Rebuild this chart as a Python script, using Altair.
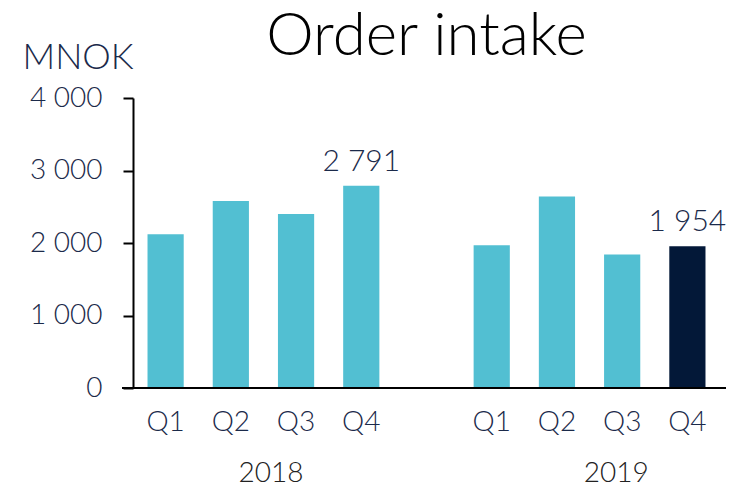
import altair as alt
import pandas as pd

quarters = ["Q1", "Q2", "Q3", "Q4"]
years = ["2018", "2019"]
values_2018 = [2120, 2580, 2400, 2791]
values_2019 = [1970, 2640, 1840, 1954]
labelled_keys = ["2018 Q4", "2019 Q4"]
highlight_key = "2019 Q4"
title_text = ["Order intake"]

NAVY = "#1b2a4a"
LIGHT = "#52bfd2"
DARK = "#031838"
FONT = "Lato"

rows = []
for yr, vals in zip(years, [values_2018, values_2019]):
    for q, v in zip(quarters, vals):
        rows.append({"key": f"{yr} {q}", "year": yr, "quarter": q, "value": v})
df = pd.DataFrame(rows)
df["label"] = df["value"].map(lambda v: f"{v:,}".replace(",", " "))

slots = [f"2018 {q}" for q in quarters] + ["gap"] + [f"2019 {q}" for q in quarters]

W, H = 587, 290

xscale = alt.Scale(domain=slots, paddingInner=0.445, paddingOuter=0.2225)
xaxis = alt.Axis(
    title=None,
    labelExpr="datum.value == 'gap' ? '' : substring(datum.value, 5)",
    ticks=False, tickSize=0, domain=False, labelAngle=0,
    labelFont=FONT, labelFontWeight=300, labelFontSize=28, labelColor=NAVY,
    labelPadding=20,
)
yscale = alt.Scale(domain=[0, 4000])
yaxis = alt.Axis(
    values=[0, 1000, 2000, 3000, 4000],
    labelExpr="replace(format(datum.value, ','), ',', ' ')",
    title="MNOK", titleAngle=0, titleX=-111, titleY=-30, titleAlign="left",
    titleBaseline="alphabetic", titleFont=FONT, titleFontWeight=300,
    titleFontSize=36, titleColor=NAVY,
    tickSize=10, tickColor="black", tickWidth=2,
    domainColor="black", domainWidth=2,
    labelFont=FONT, labelFontWeight=300, labelFontSize=28, labelColor=NAVY,
    labelPadding=21, grid=False,
)

base = alt.Chart(df)

bars = base.mark_bar().encode(
    x=alt.X("key:N", scale=xscale, axis=xaxis),
    y=alt.Y("value:Q", scale=yscale, axis=yaxis),
    color=alt.condition(alt.datum.key == highlight_key, alt.value(DARK), alt.value(LIGHT)),
)

values_text = base.transform_filter(
    alt.FieldOneOfPredicate(field="key", oneOf=labelled_keys)
).mark_text(
    font=FONT, fontWeight=300, fontSize=30, color=NAVY, baseline="alphabetic", dy=-15
).encode(
    x=alt.X("key:N", scale=xscale, axis=xaxis),
    y=alt.Y("value:Q", scale=yscale),
    text="label:N",
)

baseline_rule = alt.Chart(pd.DataFrame({"v": [0]})).mark_rule(
    color="black", strokeWidth=2
).encode(
    y=alt.Y("v:Q", scale=yscale),
    x=alt.value(-11), x2=alt.value(W + 6),
)

year_df = pd.DataFrame({"year": years, "slot": ["2018 Q3", "2019 Q3"]})
year_2018 = alt.Chart(year_df).transform_filter(alt.datum.year == "2018").mark_text(
    font=FONT, fontWeight=300, fontSize=28, color="#222222", baseline="alphabetic", dx=-25
).encode(x=alt.X("slot:N", scale=xscale, axis=xaxis), y=alt.value(H + 94), text="year:N")
year_2019 = alt.Chart(year_df).transform_filter(alt.datum.year == "2019").mark_text(
    font=FONT, fontWeight=300, fontSize=28, color="#222222", baseline="alphabetic", dx=-6
).encode(x=alt.X("slot:N", scale=xscale, axis=xaxis), y=alt.value(H + 94), text="year:N")

title_layer = alt.Chart(pd.DataFrame({"t": title_text})).mark_text(
    font=FONT, fontWeight=300, fontSize=60, color="black", baseline="alphabetic", align="center"
).encode(x=alt.value(W / 2), y=alt.value(-43), text="t:N")

chart = alt.layer(bars, values_text, baseline_rule, year_2018, year_2019, title_layer).properties(
    width=W, height=H,
    autosize=alt.AutoSizeParams(type="none"),
    padding={"left": 125, "top": 90, "right": 6, "bottom": 100},
).configure_view(stroke=None)

chart.save("out.html", embed_options={"renderer": "svg", "actions": False})
